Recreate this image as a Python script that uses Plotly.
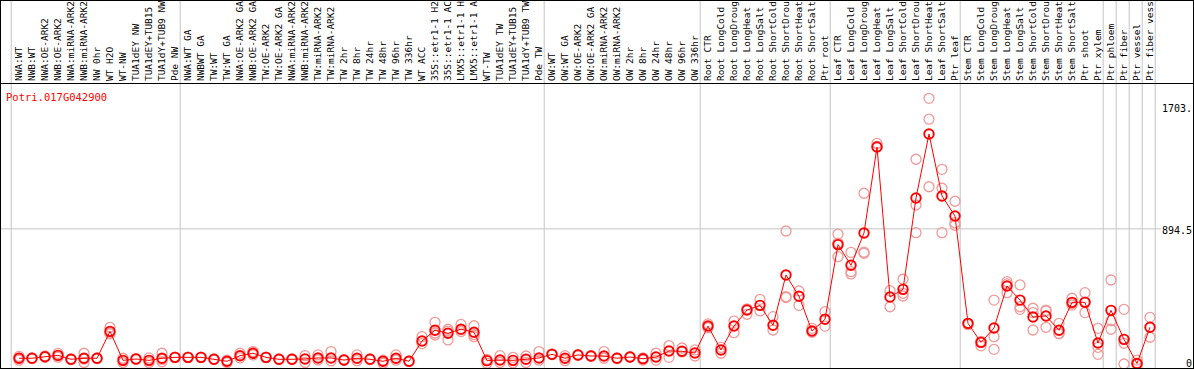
import plotly.graph_objects as go

labels = [
    "NWA:WT", "NWB:WT", "NWA:OE-ARK2", "NWB:OE-ARK2", "NWA:miRNA-ARK2", "NWB:miRNA-ARK2",
    "NW 0hr", "WT H2O", "WT-NW", "TUA1dEY NW", "TUA1dEY+TUB15 NW", "TUA1dY+TUB9 NW", "Pde NW",
    "NWA:WT GA", "NWBWT GA", "TW:WT", "TW:WT GA", "NWA:OE-ARK2 GA", "NWB:OE-ARK2 GA",
    "TW:OE-ARK2", "TW:OE-ARK2 GA", "NWA:miRNA-ARK2", "NWB:miRNA-ARK2", "TW:miRNA-ARK2",
    "TW:miRNA-ARK2", "TW 2hr", "TW 8hr", "TW 24hr", "TW 48hr", "TW 96hr", "TW 336hr",
    "WT ACC", "35S::etr1-1 H2O", "35S::etr1-1 ACC", "LMX5::etr1-1 H2O", "LMX5::etr1-1 ACC",
    "WT-TW", "TUA1dEY TW", "TUA1dEY+TUB15 TW", "TUA1dY+TUB9 TW", "Pde TW",
    "OW:WT", "OW:WT GA", "OW:OE-ARK2", "OW:OE-ARK2 GA", "OW:miRNA-ARK2", "OW:miRNA-ARK2",
    "OW 2hr", "OW 8hr", "OW 24hr", "OW 48hr", "OW 96hr", "OW 336hr",
    "Root CTR", "Root LongCold", "Root LongDrought", "Root LongHeat", "Root LongSalt",
    "Root ShortCold", "Root ShortDrought", "Root ShortHeat", "Root ShortSalt", "Ptr root",
    "Leaf CTR", "Leaf LongCold", "Leaf LongDrought", "Leaf LongHeat", "Leaf LongSalt",
    "Leaf ShortCold", "Leaf ShortDrought", "Leaf ShortHeat", "Leaf ShortSalt", "Ptr leaf",
    "Stem CTR", "Stem LongCold", "Stem LongDrought", "Stem LongHeat", "Stem LongSalt",
    "Stem ShortCold", "Stem ShortDrought", "Stem ShortHeat", "Stem ShortSalt", "Ptr shoot",
    "Ptr xylem", "Ptr phloem", "Ptr fiber", "Ptr vessel", "Ptr fiber vessel",
]

means = [
    38, 38, 48, 57, 31, 38, 38, 216, 24, 33, 24, 38, 44,
    44, 44, 31, 18, 55, 71, 44, 31, 31, 33, 40, 40, 26, 38, 31, 18, 38, 18,
    152, 223, 203, 230, 210, 22, 26, 24, 31, 40,
    64, 38, 60, 53, 53, 38, 46, 35, 46, 86, 84, 73,
    251, 93, 251, 357, 388, 256, 589, 448, 218, 296,
    790, 653, 867, 1436, 443, 494, 1099, 1522, 1112, 979,
    269, 143, 238, 516, 423, 311, 318, 223, 408, 408, 139,
    355, 163, 3, 243,
]

replicates = [
    [50, 25, 38], [40, 36], [53, 44], [70, 45], [33, 29], [71, 10, 33], [40, 35],
    [243, 205, 200], [38, 10], [36, 30], [40, 10], [71, 15, 30], [46, 42],
    [46, 42], [45, 43], [33, 29], [10, 25], [71, 40], [82, 60], [46, 42], [33, 29],
    [33, 29], [55, 10], [60, 27], [82, 20], [28, 24], [60, 22], [33, 29], [5, 25],
    [60, 25], [20, 16], [181, 135], [276, 192, 205], [218, 159, 230], [262, 215],
    [253, 181, 195], [5, 30], [55, 10], [44, 8], [53, 10], [82, 25],
    [66, 62], [55, 22], [62, 58], [55, 51], [82, 38], [40, 36], [48, 44], [26, 40],
    [71, 26], [121, 44], [106, 80], [93, 53],
    [265, 240], [110, 71], [284, 207], [329, 365], [428, 351], [313, 225],
    [880, 446, 440], [483, 388], [236, 210], [346, 251],
    [860, 710, 800], [739, 611, 596], [1130, 733, 740], [1460, 1440], [485, 379],
    [561, 468, 450], [1355, 1052, 869], [1758, 1620, 1173], [1288, 1163, 869],
    [1077, 935, 918],
    [260, 269], [150, 120], [423, 181, 97], [545, 472, 530], [523, 379, 362],
    [369, 225, 340], [357, 243, 350], [269, 203, 200], [435, 400, 390],
    [472, 340, 410], [236, 110, 64], [556, 287, 230], [362, 137, 0], [26, 0, 0],
    [309, 177],
]

group_starts = [0, 13, 41, 53, 63, 73, 84, 85, 86, 87, 88]
ytick_vals = [0, 894.5, 1703]
ytick_text = ["0", "894.5", "1703."]
gene = "Potri.017G042900"

FONT = "DejaVu Sans Mono"
W, H = 1194, 370
ML, MR, MT, MB = 1, 1, 84, 2
plot_h = H - MT - MB
plot_w = W - ML - MR

xs = list(range(len(labels)))
rx, ry = [], []
for i, reps in enumerate(replicates):
    for v in reps:
        rx.append(i)
        ry.append(v)

fig = go.Figure()
fig.add_trace(go.Scatter(
    x=rx, y=ry, mode="markers",
    marker=dict(symbol="circle-open", size=10, color="#f09a9a", line=dict(width=1.3)),
    hoverinfo="skip", showlegend=False,
))
fig.add_trace(go.Scatter(
    x=xs, y=means, mode="lines+markers",
    line=dict(color="#ff0000", width=1),
    marker=dict(symbol="circle-open", size=9.5, color="#ff0000", line=dict(width=1.9)),
    showlegend=False,
))

top_paper = 1 + MT / plot_h
shapes = []
for k in group_starts:
    shapes.append(dict(type="line", xref="x", yref="paper", x0=k - 0.6, x1=k - 0.6,
                       y0=0, y1=top_paper, line=dict(color="#c4c4c4", width=1), layer="below"))
# gridline at middle tick
shapes.append(dict(type="line", xref="paper", yref="y", x0=0, x1=(1161 - ML) / plot_w,
                   y0=ytick_vals[1], y1=ytick_vals[1], line=dict(color="#c4c4c4", width=1),
                   layer="below"))
# outer frame around label area
shapes.append(dict(type="line", xref="paper", yref="paper", x0=-0.5 / plot_w, x1=1 + 0.5 / plot_w,
                   y0=1 + (MT - 0.5) / plot_h, y1=1 + (MT - 0.5) / plot_h,
                   line=dict(color="black", width=1)))
shapes.append(dict(type="line", xref="paper", yref="paper", x0=-0.5 / plot_w, x1=-0.5 / plot_w,
                   y0=1, y1=top_paper, line=dict(color="black", width=1)))
shapes.append(dict(type="line", xref="paper", yref="paper", x0=1 + 0.5 / plot_w, x1=1 + 0.5 / plot_w,
                   y0=1, y1=top_paper, line=dict(color="black", width=1)))

annotations = [dict(
    text=gene, xref="paper", yref="paper", x=0, y=1, xshift=3, yshift=-13,
    xanchor="left", yanchor="middle", showarrow=False,
    font=dict(family=FONT, size=10.5, color="#ff0000"),
)]
yshifts = [1, -2, -2]
for v, t, s in zip(ytick_vals, ytick_text, yshifts):
    annotations.append(dict(
        text=t, xref="paper", yref="y", x=1, y=v, xshift=1, yshift=s,
        xanchor="right", yanchor="middle", showarrow=False,
        font=dict(family=FONT, size=10, color="black"),
    ))

fig.update_layout(
    width=W, height=H,
    margin=dict(l=ML, r=MR, t=MT, b=MB, pad=0),
    paper_bgcolor="white", plot_bgcolor="white",
    showlegend=False,
    shapes=shapes,
    font=dict(family=FONT, size=10, color="black"),
    annotations=annotations,
)
fig.update_xaxes(
    range=[-18 / 13, 1174 / 13], side="top", showgrid=False, zeroline=False,
    tickmode="array", tickvals=xs, ticktext=labels, tickangle=-90, ticks="",
    tickfont=dict(family=FONT, size=9.5, color="black"),
    showline=True, mirror=True, linecolor="black", linewidth=1, automargin=False,
)
fig.update_yaxes(
    range=[-26.5, 1853], side="right", showgrid=False, zeroline=False,
    showticklabels=False, ticks="",
    showline=True, mirror=True, linecolor="black", linewidth=1, automargin=False,
)

fig.write_html(
    "out.html",
    config={"displayModeBar": False},
    post_script="document.body.style.margin='0';document.body.style.overflow='hidden';",
)
